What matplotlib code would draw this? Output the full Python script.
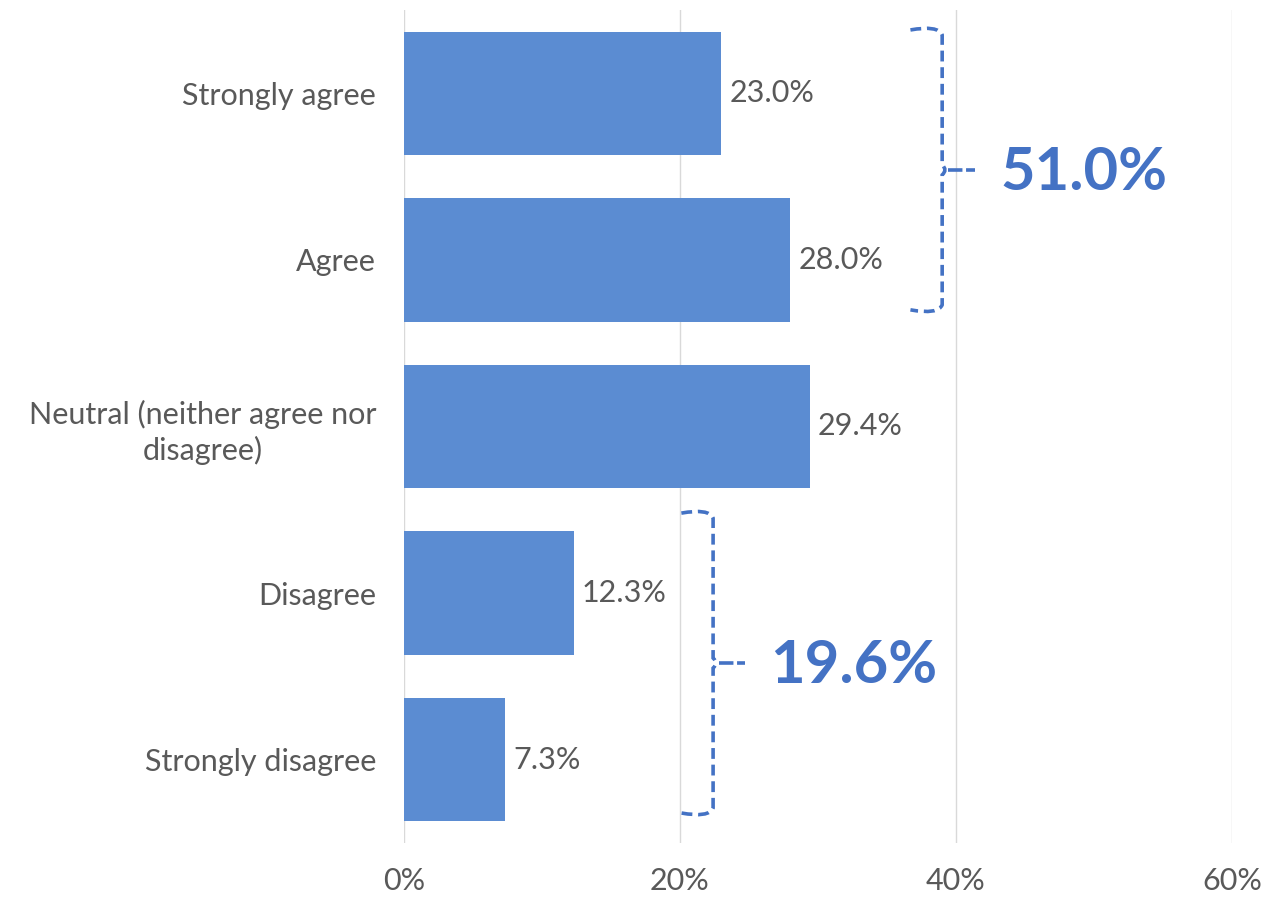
import matplotlib
matplotlib.use("Agg")
import matplotlib.pyplot as plt
from matplotlib.path import Path
from matplotlib.patches import PathPatch

categories = ["Strongly agree", "Agree", "Neutral (neither agree nor\ndisagree)",
              "Disagree", "Strongly disagree"]
values = [23.0, 28.0, 29.4, 12.3, 7.3]
xticks = [0, 20, 40, 60]
xtick_labels = ["0%", "20%", "40%", "60%"]

bar_color = "#5B8CD2"
accent = "#4472C4"
text_grey = "#595959"
font = ["Lato", "DejaVu Sans"]

fig = plt.figure(figsize=(12.76, 8.97), dpi=100)
ax = fig.add_axes([0.3166, 0.0602, 0.6489, 0.9287])

ypos = list(range(len(categories)))
ax.barh(ypos, values, height=0.74, color=bar_color, zorder=2)
ax.set_ylim(len(categories) - 0.5, -0.5)
ax.set_xlim(0, 60)

for y, v in zip(ypos, values):
    ax.text(v + 0.6, y, f"{v:.1f}%", va="center", ha="left",
            fontsize=22, color=text_grey, family=font)

ax.set_yticks(ypos)
ax.set_yticklabels(categories, fontsize=22, color=text_grey, family=font,
                   ha="right", multialignment="center", linespacing=1.3)
ax.tick_params(axis="y", length=0, pad=20)
ax.set_xticks(xticks)
ax.set_xticklabels(xtick_labels, fontsize=22, color=text_grey, family=font)
ax.tick_params(axis="x", length=0, pad=17)
ax.grid(axis="x", color="#d9d9d9", linewidth=1, zorder=0)
for s in ax.spines.values():
    s.set_visible(False)


def bracket(ax, x, x_end, x_knob, y_top, y_bot, y_mid):
    verts = [(x_end, y_top), (x - 0.3, y_top - 0.03), (x, y_top + 0.03),
             (x, y_mid - 0.03), (x + 0.4, y_mid), (x, y_mid + 0.03),
             (x, y_bot - 0.03), (x - 0.3, y_bot + 0.03), (x_end, y_bot)]
    codes = [Path.MOVETO, Path.CURVE3, Path.CURVE3,
             Path.LINETO, Path.CURVE3, Path.CURVE3,
             Path.LINETO, Path.CURVE3, Path.CURVE3]
    ax.add_patch(PathPatch(Path(verts, codes), fill=False, edgecolor=accent,
                           linewidth=2.6, linestyle=(0, (3, 1.6)), zorder=3,
                           clip_on=False))
    ax.plot([x + 0.4, x_knob], [y_mid, y_mid], color=accent, linewidth=2.6,
            linestyle=(0, (4, 1)), zorder=3, clip_on=False)


agree_total = values[0] + values[1]
disagree_total = values[3] + values[4]

bracket(ax, 39.0, 36.7, 41.4, -0.38, 1.30, 0.46)
ax.text(43.2, 0.48, f"{agree_total:.1f}%", va="center", ha="left",
        fontsize=43, fontweight="bold", color=accent, family=font)

bracket(ax, 22.4, 20.1, 24.7, 2.52, 4.32, 3.42)
ax.text(26.5, 3.44, f"{disagree_total:.1f}%", va="center", ha="left",
        fontsize=43, fontweight="bold", color=accent, family=font)

fig.savefig("out.png", dpi=100, facecolor="white")
